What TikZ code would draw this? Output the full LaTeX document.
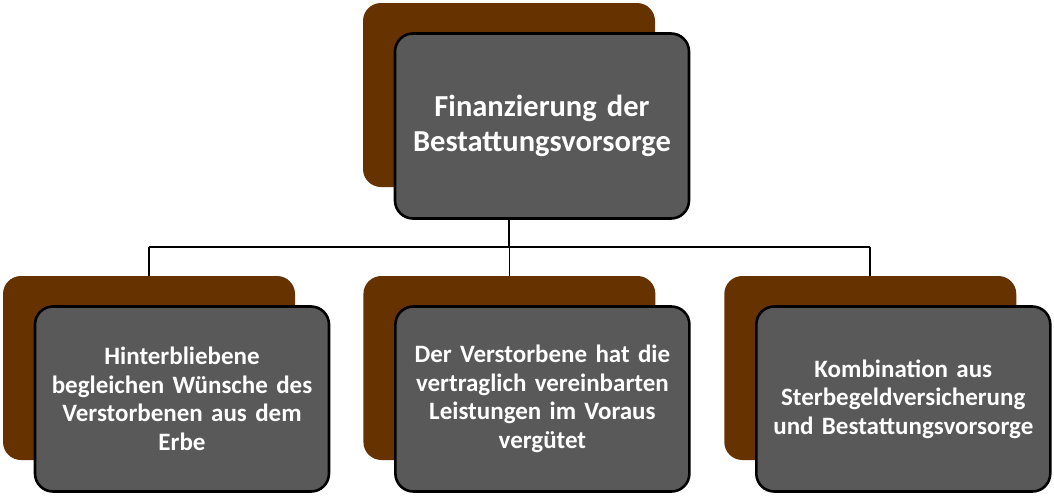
\documentclass[tikz,border=0pt]{standalone}
\usepackage{fontspec}
\setmainfont{Carlito}
\usetikzlibrary{positioning,backgrounds,calc}
\definecolor{umber}{RGB}{102,51,0}
\definecolor{slate}{RGB}{89,89,89}
\tikzset{
  back/.style={rectangle, rounded corners=18pt, fill=umber, inner sep=0pt,
    minimum width=292pt, minimum height=184pt},
  card/.style={rectangle, rounded corners=18pt, draw=black, line width=2.6pt,
    fill=slate, text=white, align=center, text width=280pt,
    font=\bfseries\fontsize{25}{28.5}\selectfont,
    minimum width=294pt, minimum height=185pt, shift={(33pt,-31pt)}},
  head/.style={card, font=\bfseries\fontsize{30.5}{35}\selectfont},
  link/.style={line width=1.8pt, black},
}
\begin{document}
\begin{tikzpicture}[x=1pt, y=1pt]
\useasboundingbox (0,0) rectangle (1054,-498);
% top
\node[back] (topback) at (509,-95) {};
\node[head] (topcard) at (topback) {Finanzierung der\\Bestattungsvorsorge};
% bottom row
\node[back] (leftback) at (149,-368) {};
\node[back, right=68pt of leftback] (midback) {};
\node[back, right=68.5pt of midback] (rightback) {};
\node[card] (leftcard) at (leftback) {Hinterbliebene\\begleichen Wünsche des\\Verstorbenen aus dem\\Erbe};
\node[card] (midcard) at (midback) {Der Verstorbene hat die\\vertraglich vereinbarten\\Leistungen im Voraus\\vergütet};
\node[card] (rightcard) at (rightback) {Kombination aus\\Sterbegeldversicherung\\und Bestattungsvorsorge};
\coordinate (bus) at (0,-247);
\begin{scope}[on background layer]
\draw[link] (topback.south) -- (topback.south |- bus);
\draw[link] (leftback.north |- bus) -- (rightback.north |- bus);
\draw[link] (leftback.north |- bus) -- (leftback.north);
\draw[link] (midback.north |- bus) -- (midback.north);
\draw[link] (rightback.north |- bus) -- (rightback.north);
\end{scope}
\end{tikzpicture}
\end{document}
